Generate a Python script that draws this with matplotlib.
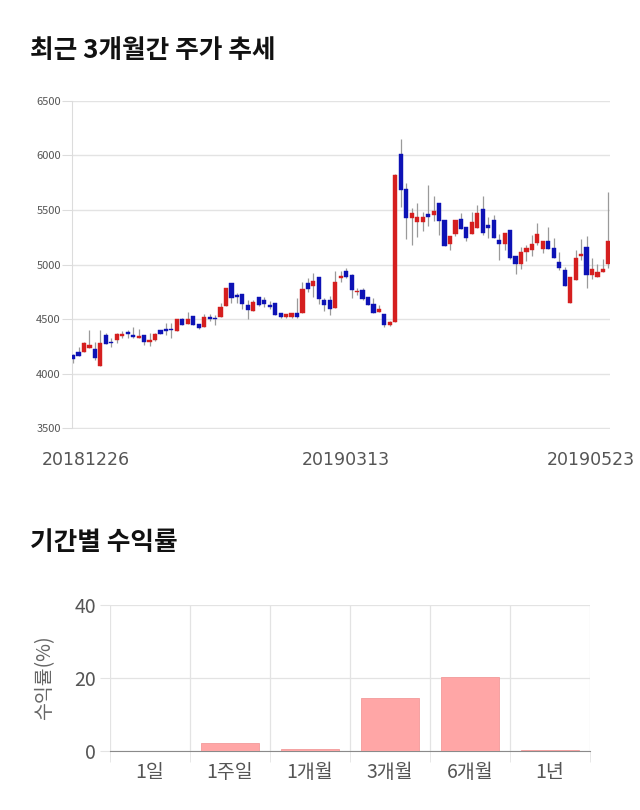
import matplotlib
matplotlib.use("Agg")
import matplotlib.pyplot as plt
import matplotlib.transforms as mtransforms
import numpy as np

plt.rcParams['font.family'] = ['Noto Sans CJK KR', 'DejaVu Sans']

# daily candles, 2018-12-26 .. 2019-05-23
opens = [4170, 4200, 4205, 4245, 4220, 4075, 4355, 4290, 4310, 4355,
         4375, 4350, 4335, 4350, 4295, 4310, 4400, 4405, 4410, 4395,
         4500, 4460, 4525, 4455, 4435, 4515, 4510, 4525, 4625, 4825,
         4715, 4730, 4630, 4580, 4700, 4675, 4625, 4645, 4555, 4520,
         4520, 4555, 4560, 4830, 4810, 4885, 4670, 4670, 4605, 4885,
         4940, 4905, 4750, 4760, 4700, 4635, 4570, 4545, 4450, 4480,
         6010, 5685, 5430, 5390, 5395, 5460, 5455, 5560, 5400, 5195,
         5280, 5410, 5340, 5285, 5340, 5505, 5355, 5400, 5225, 5190,
         5310, 5075, 5005, 5120, 5140, 5205, 5150, 5215, 5150, 5020,
         4950, 4655, 4865, 5085, 5160, 4910, 4890, 4940, 5005]
closes = [4140, 4165, 4280, 4260, 4150, 4280, 4280, 4285, 4365, 4360,
          4365, 4345, 4345, 4300, 4310, 4365, 4370, 4400, 4405, 4500,
          4455, 4500, 4455, 4425, 4515, 4505, 4505, 4610, 4785, 4700,
          4710, 4640, 4585, 4650, 4630, 4645, 4620, 4540, 4520, 4540,
          4555, 4520, 4775, 4785, 4845, 4690, 4630, 4600, 4840, 4890,
          4890, 4775, 4755, 4690, 4635, 4560, 4590, 4455, 4475, 5820,
          5685, 5430, 5470, 5435, 5435, 5440, 5490, 5400, 5175, 5260,
          5400, 5330, 5245, 5385, 5470, 5295, 5340, 5245, 5190, 5285,
          5060, 5010, 5115, 5150, 5180, 5280, 5215, 5150, 5065, 4975,
          4805, 4885, 5060, 5090, 4910, 4960, 4930, 4955, 5210]
highs = [4180, 4250, 4290, 4400, 4295, 4400, 4370, 4330, 4370, 4390,
         4400, 4425, 4415, 4355, 4375, 4370, 4405, 4470, 4465, 4505,
         4510, 4565, 4530, 4460, 4545, 4545, 4540, 4645, 4790, 4830,
         4740, 4735, 4675, 4680, 4705, 4705, 4665, 4650, 4560, 4545,
         4560, 4695, 4845, 4875, 4925, 4890, 4695, 4710, 4945, 4945,
         4965, 4910, 4785, 4785, 4705, 4690, 4630, 4550, 4480, 5825,
         6145, 5745, 5515, 5560, 5485, 5725, 5625, 5565, 5405, 5265,
         5405, 5470, 5345, 5485, 5545, 5625, 5435, 5455, 5280, 5290,
         5315, 5080, 5160, 5180, 5270, 5385, 5220, 5345, 5240, 5115,
         4975, 4890, 5130, 5235, 5260, 5060, 5010, 5050, 5660]
lows = [4100, 4160, 4200, 4235, 4130, 4070, 4275, 4250, 4280, 4330,
        4330, 4330, 4330, 4265, 4255, 4300, 4365, 4360, 4325, 4390,
        4450, 4455, 4450, 4415, 4430, 4480, 4450, 4520, 4620, 4650,
        4650, 4590, 4500, 4575, 4620, 4615, 4590, 4535, 4515, 4515,
        4515, 4515, 4555, 4750, 4700, 4640, 4575, 4540, 4600, 4840,
        4880, 4690, 4725, 4680, 4630, 4555, 4565, 4425, 4440, 4475,
        5530, 5230, 5180, 5250, 5310, 5350, 5400, 5270, 5170, 5130,
        5260, 5325, 5215, 5280, 5335, 5270, 5245, 5240, 5045, 5130,
        5055, 4910, 4960, 5030, 5080, 5180, 5105, 5145, 5060, 4950,
        4800, 4650, 4860, 5040, 4790, 4870, 4885, 4935, 4970]
date_labels = ['20181226', '20190313', '20190523']
date_idx = [0, 50, 98]
price_ticks = [3500, 4000, 4500, 5000, 5500, 6000, 6500]

periods = ['1일', '1주일', '1개월', '3개월', '6개월', '1년']
returns = [0.0, 2.3, 0.45, 14.6, 20.2, 0.3]

red = '#d51f1f'
blue = '#0d12b5'
grid_c = '#e3e3e3'

fig = plt.figure(figsize=(6.4, 8.1), dpi=100)

fig.text(30 / 640, 1 - 50 / 810, '최근 3개월간 주가 추세', fontsize=18.5,
         fontweight='bold', va='center', ha='left', color='#111111')
fig.text(30 / 640, 1 - 543 / 810, '기간별 수익률', fontsize=18.5,
         fontweight='bold', va='center', ha='left', color='#111111')

# ---- candlestick chart
ax = fig.add_axes([72 / 640, 1 - 428.5 / 810, 538 / 640, 327.8 / 810])
x = np.arange(len(opens))
o = np.array(opens)
c = np.array(closes)
up = c >= o
colors = np.where(up, red, blue)
ax.vlines(x, lows, highs, color='#9a9a9a', linewidth=0.9, zorder=2)
ax.bar(x, np.abs(c - o) + 8, bottom=np.minimum(o, c) - 4, width=0.76,
       color=colors, edgecolor=colors, linewidth=0.3, zorder=3)
ax.set_xlim(-0.2, 98.3)
ax.set_ylim(3500, 6500)
ax.set_yticks(price_ticks)
ax.set_yticklabels([str(t) for t in price_ticks])
ax.yaxis.grid(True, color=grid_c, linewidth=1)
ax.set_axisbelow(True)
for s in ['top', 'right', 'bottom']:
    ax.spines[s].set_visible(False)
ax.spines['left'].set_color('#dcdcdc')
ax.tick_params(axis='y', length=7, color='#dcdcdc', labelsize=8,
               labelcolor='#555555', pad=1)
ax.set_xticks(date_idx)
ax.set_xticklabels(date_labels, family='DejaVu Sans')
ax.tick_params(axis='x', length=0, labelsize=12.5, labelcolor='#555555', pad=16)
shifts = [13, 0, -18]
for lab, dx in zip(ax.get_xticklabels(), shifts):
    lab.set_transform(lab.get_transform() +
                      mtransforms.ScaledTranslation(dx / 100, 0, fig.dpi_scale_trans))

# ---- returns bar chart
bx = fig.add_axes([110 / 640, 1 - 751 / 810, 480 / 640, 146 / 810])
pos = np.arange(len(periods))
bx.bar(pos, returns, width=0.72, color='#ffa6a6', edgecolor='#f29a9a',
       linewidth=0.6, zorder=3)
bx.set_xlim(-0.5, len(periods) - 0.5)
bx.set_ylim(0, 40)
bx.set_yticks([0, 20, 40])
bx.set_xticks(pos)
bx.set_xticklabels(periods)
bx.set_xticks(np.arange(len(periods) + 1) - 0.5, minor=True)
bx.xaxis.grid(True, which='minor', color=grid_c, linewidth=0.9)
bx.yaxis.grid(True, color=grid_c, linewidth=0.9)
bx.set_axisbelow(True)
for s in ['top', 'right', 'left']:
    bx.spines[s].set_visible(False)
bx.spines['bottom'].set_color('#8a8a8a')
bx.tick_params(axis='x', which='major', length=0, labelsize=14,
               labelcolor='#555555', pad=8)
bx.tick_params(axis='x', which='minor', length=8, color=grid_c)
bx.tick_params(axis='y', length=7, color=grid_c, labelsize=14,
               labelcolor='#555555', pad=3)
bx.set_ylabel('수익률(%)', fontsize=14, color='#666666', labelpad=14)

fig.savefig('out.png', dpi=100)
